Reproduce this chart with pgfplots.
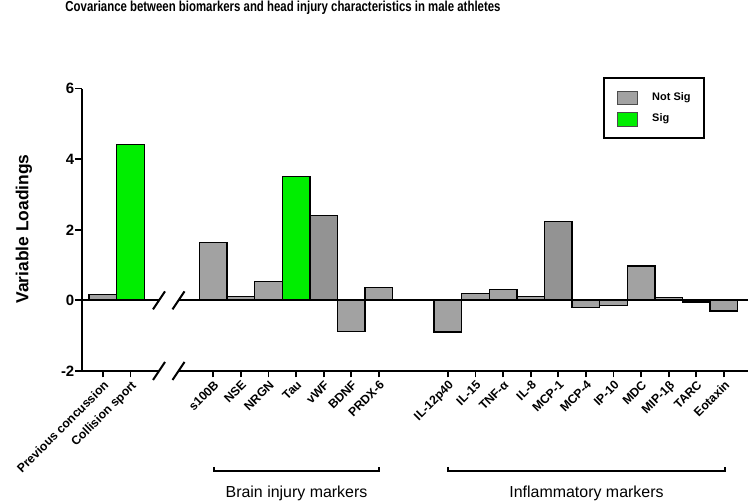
\documentclass[border=0pt]{standalone}
\usepackage{fontspec}
\setmainfont{Liberation Sans}
\usepackage{graphicx}
\usepackage{pgfplots}
\pgfplotsset{compat=1.18}
\definecolor{notsig}{RGB}{162,162,162}
\definecolor{notsigdark}{RGB}{147,147,147}
\definecolor{sig}{RGB}{0,238,0}

\begin{document}
\begin{tikzpicture}
\begin{axis}[
  at={(0,0)}, anchor=south west,
  x=27.6bp, y=35.3bp,
  xmin=-0.76, xmax=23.37, ymin=-2, ymax=6,
  axis lines=left,
  axis line style={-},
  x axis line style={draw=none},
  y axis line style={line width=2bp},
  tick align=outside,
  major tick length=6.5bp,
  every tick/.style={black, line width=1.8bp},
  ytick={-2,0,2,4,6},
  yticklabels={-2,0,2,4,6},
  yticklabel style={font=\fontsize{15}{15}\selectfont\bfseries, inner sep=1bp},
  xtick={0,1,4,5,6,7,8,9,10,12.5,13.5,14.5,15.5,16.5,17.5,18.5,19.5,20.5,21.5,22.5},
  xticklabels={Previous concussion, Collision sport, s100B, NSE, NRGN, Tau, vWF, BDNF, PRDX-6,
    IL-12p40, IL-15, TNF-α, IL-8, MCP-1, MCP-4, IP-10, MDC, MIP-1β, TARC, Eotaxin},
  xticklabel style={font=\fontsize{12.3}{12.3}\selectfont\bfseries, rotate=45, anchor=north east, inner sep=1.5bp},
  clip=false,
]
% not significant
\addplot[ybar, bar width=1, bar shift=0pt, fill=notsig, draw=black, line width=1.4bp]
coordinates {
  (0,0.17) (4,1.64) (5,0.11) (6,0.54) (9,-0.88) (10,0.37)
  (12.5,-0.89) (13.5,0.20) (14.5,0.31) (15.5,0.11) (17.5,-0.20)
  (18.5,-0.14) (19.5,0.97) (20.5,0.09) (21.5,-0.04) (22.5,-0.30)
};
\addplot[ybar, bar width=1, bar shift=0pt, fill=notsigdark, draw=black, line width=1.4bp]
coordinates {(8,2.41) (16.5,2.24)};
% significant
\addplot[ybar, bar width=1, bar shift=0pt, fill=sig, draw=black, line width=1.4bp]
coordinates {(1,4.42) (7,3.51)};

\coordinate (O) at (axis cs:-0.76,-2);
\end{axis}

\begin{scope}[shift={(O)}, x=1bp, y=1bp]
  % broken x axis and zero line
  \draw[line width=2bp] (0,0) -- (77,0) (96.5,0) -- (666,0);
  \draw[line width=2bp] (0,70.6) -- (77,70.6) (96.5,70.6) -- (666,70.6);
  \foreach \cx in {77,96.5} {
    \foreach \cy in {0,70.6} {
      \draw[line width=2bp] (\cx,\cy) ++(-6,-9) -- ++(12,18);
    }
  }
  % group brackets
  \draw[line width=1.3bp] (132,-96) -- (132,-100) -- (297,-100) -- (297,-96);
  \node[anchor=base, font=\fontsize{16}{16}\selectfont] at (214.5,-127) {Brain injury markers};
  \draw[line width=1.3bp] (366,-96) -- (366,-100) -- (643,-100) -- (643,-96);
  \node[anchor=base, font=\fontsize{16}{16}\selectfont] at (504.5,-127) {Inflammatory markers};
  % title and y label
  \node[anchor=base, font=\fontsize{14.5}{14.5}\selectfont\bfseries] at (201,359)
    {\scalebox{0.79}[1]{Covariance between biomarkers and head injury characteristics in male athletes}};
  \node[rotate=90, font=\fontsize{17.5}{17.5}\selectfont\bfseries] at (-58,142) {Variable Loadings};
  % legend
  \draw[line width=1.3bp] (522,233) rectangle (622,293);
  \draw[fill=notsig, draw=black!70, line width=0.6bp] (535,267) rectangle (555,280);
  \draw[fill=sig, draw=black!70, line width=0.6bp] (535,245) rectangle (555,259);
  \node[anchor=west, inner sep=0, font=\fontsize{11}{11}\selectfont\bfseries] at (570,273) {Not Sig};
  \node[anchor=west, inner sep=0, font=\fontsize{11}{11}\selectfont\bfseries] at (570,252) {Sig};
  \pgfresetboundingbox
  \path (-82,-131) rectangle (667,371);
\end{scope}
\end{tikzpicture}
\end{document}
